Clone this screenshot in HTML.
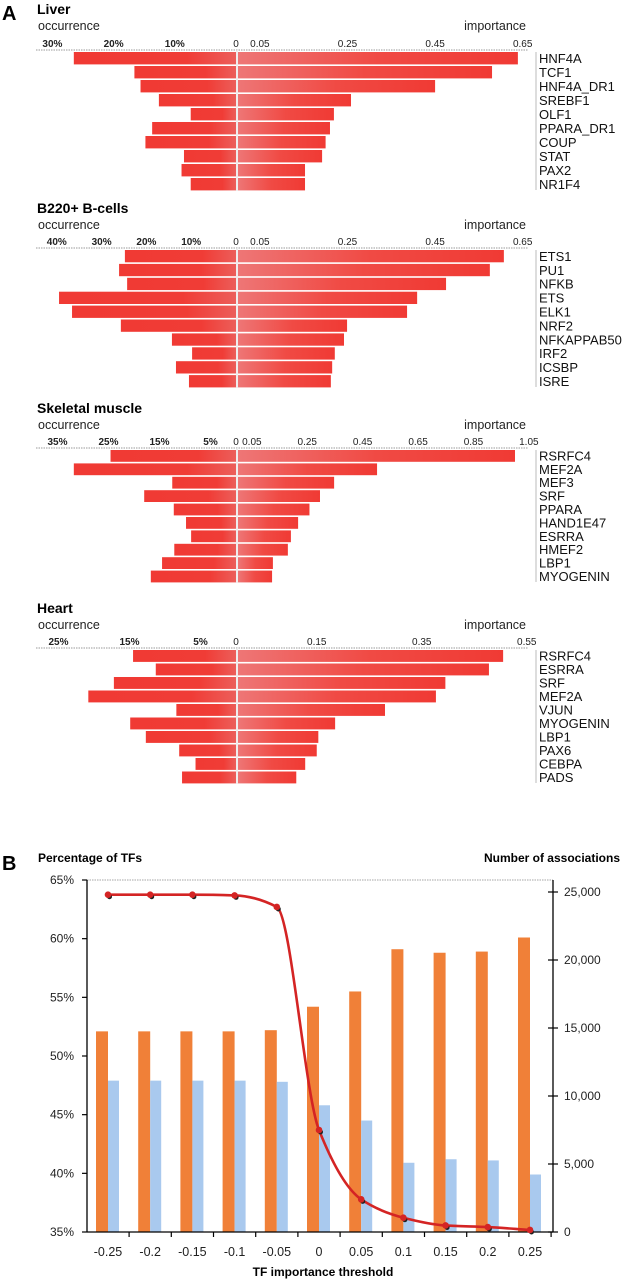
<!DOCTYPE html>
<html><head><meta charset="utf-8">
<style>
html,body{margin:0;padding:0;background:#fff;width:630px;height:1280px;overflow:hidden}
svg{display:block;font-family:"Liberation Sans",sans-serif}
</style></head>
<body>
<svg id="fig" width="630" height="1280" viewBox="0 0 630 1280" xmlns="http://www.w3.org/2000/svg">
<defs>
<linearGradient id="rg" x1="0" x2="1" y1="0" y2="0">
<stop offset="0" stop-color="#ee7676"/><stop offset="0.5" stop-color="#f04a44"/><stop offset="1" stop-color="#f03a34"/>
</linearGradient>
<linearGradient id="lg" x1="0" x2="1" y1="0" y2="0">
<stop offset="0" stop-color="#f03a34"/><stop offset="0.7" stop-color="#f03c36"/><stop offset="1" stop-color="#ec5e5a"/>
</linearGradient>
</defs>
<text x="2" y="20" font-size="20" font-weight="bold">A</text>
<text x="2" y="870" font-size="20" font-weight="bold">B</text>
<g id="panelA"></g>
<g id="panelB"></g>
</svg>
<script>
// ---- Panel A data ----
const liverNames = ["HNF4A","TCF1","HNF4A_DR1","SREBF1","OLF1","PPARA_DR1","COUP","STAT","PAX2","NR1F4"];
const liverOcc = [26.5,16.6,15.6,12.6,7.4,13.7,14.8,8.5,8.9,7.4];
const liverImp = [0.639,0.58,0.45,0.258,0.219,0.21,0.2,0.192,0.153,0.153];
const liverOccTicks = [30,20,10];
const liverImpTicks = [0.05,0.25,0.45,0.65];

const bcellNames = ["ETS1","PU1","NFKB","ETS","ELK1","NRF2","NFKAPPAB50","IRF2","ICSBP","ISRE"];
const bcellOcc = [24.8,26.1,24.3,39.5,36.6,25.7,14.3,9.8,13.4,10.5];
const bcellImp = [0.607,0.575,0.475,0.409,0.386,0.249,0.242,0.221,0.215,0.212];
const bcellOccTicks = [40,30,20,10];
const bcellImpTicks = [0.05,0.25,0.45,0.65];

const muscleNames = ["RSRFC4","MEF2A","MEF3","SRF","PPARA","HAND1E47","ESRRA","HMEF2","LBP1","MYOGENIN"];
const muscleOcc = [24.6,31.8,12.5,18.0,12.2,9.8,8.8,12.1,14.5,16.7];
const muscleImp = [1.0,0.502,0.347,0.296,0.258,0.217,0.191,0.18,0.126,0.123];
const muscleOccTicks = [35,25,15,5];
const muscleImpTicks = [0.05,0.25,0.45,0.65,0.85,1.05];

const heartNames = ["RSRFC4","ESRRA","SRF","MEF2A","VJUN","MYOGENIN","LBP1","PAX6","CEBPA","PADS"];
const heartOcc = [14.5,11.3,17.2,20.8,8.4,14.9,12.7,8.0,5.7,7.6];
const heartImp = [0.505,0.478,0.395,0.377,0.28,0.185,0.153,0.15,0.128,0.111];
const heartOccTicks = [25,15,5];
const heartImpTicks = [0.15,0.35,0.55];

// ---- Panel B data ----
const thresholds = ["-0.25","-0.2","-0.15","-0.1","-0.05","0","0.05","0.1","0.15","0.2","0.25"];
const orangePct = [52.1,52.1,52.1,52.1,52.2,54.2,55.5,59.1,58.8,58.9,60.1];
const bluePct = [47.9,47.9,47.9,47.9,47.8,45.8,44.5,40.9,41.2,41.1,39.9];
const associations = [24800,24800,24800,24750,23900,7500,2400,1050,480,360,150];
const leftTicks = [35,40,45,50,55,60,65];
const rightTicks = [0,5000,10000,15000,20000,25000];

const NS="http://www.w3.org/2000/svg";
function mk(tag,attrs,parent,text){const e=document.createElementNS(NS,tag);for(const k in attrs)e.setAttribute(k,attrs[k]);if(text!==undefined)e.textContent=text;parent.appendChild(e);return e;}

const A=document.getElementById('panelA');
function drawPanel(cfg){
  const g=mk('g',{},A);
  
  
  const cx=236, rx=238;
  const xL=v=>cx-v*cfg.occScale;
  const xR=v=>rx+v*cfg.impScale;
  const t=mk('text',{x:37,y:cfg.y0+10,'font-size':14,'font-weight':'bold'},g,cfg.title);
  
  
  const o=mk('text',{x:38,y:cfg.y0+26,'font-size':12.5,fill:'#222'},g,'occurrence');
  
  
  const im=mk('text',{x:526,y:cfg.y0+26,'font-size':12.5,fill:'#222','text-anchor':'end'},g,'importance');
  
  
  const ay=cfg.y0+cfg.axisOff;
  const ax=mk('line',{x1:36,x2:528,y1:ay,y2:ay,stroke:'#999','stroke-width':1,'stroke-dasharray':'1.5 1'},g);
  
  
  cfg.occTicks.forEach(v=>{
    const tt=mk('text',{x:xL(v),y:ay-3,'font-size':10,'font-weight':'bold','text-anchor':'middle',fill:'#222'},g,v+'%');
    
    
  });
  const z=mk('text',{x:cx,y:ay-3,'font-size':10,'text-anchor':'middle',fill:'#222'},g,'0');
  
  
  cfg.impTicks.forEach(v=>{
    const tt=mk('text',{x:xR(v),y:ay-3,'font-size':10,'text-anchor':'middle',fill:'#222'},g,String(v));
    
    
  });
  mk('line',{x1:cx+1,x2:cx+1,y1:ay,y2:ay+cfg.pitch*10+1,stroke:'#ddd','stroke-width':1},g);
  cfg.names.forEach((n,i)=>{
    const y=ay+2+i*cfg.pitch;
    const l=mk('rect',{x:xL(cfg.occ[i]),y:y,width:cx-xL(cfg.occ[i]),height:cfg.pitch-1.6,fill:'url(#lg)'},g);
    
    
    const r=mk('rect',{x:rx,y:y,width:xR(cfg.imp[i])-rx,height:cfg.pitch-1.6,fill:'url(#rg)'},g);
    
    
    const lb=mk('text',{x:539,y:y+cfg.pitch-3,'font-size':13,fill:'#111'},g,n);
    
    
  });
  mk('line',{x1:536,x2:536,y1:ay+2,y2:ay+cfg.pitch*10,stroke:'#aaa','stroke-width':0.8},g);
}
drawPanel({id:'liver',title:'Liver',y0:4,axisOff:46,pitch:14,names:liverNames,occ:liverOcc,imp:liverImp,occTicks:liverOccTicks,impTicks:liverImpTicks,occScale:6.12,impScale:438});
drawPanel({id:'bcell',title:'B220+ B-cells',y0:203,axisOff:45,pitch:13.9,names:bcellNames,occ:bcellOcc,imp:bcellImp,occTicks:bcellOccTicks,impTicks:bcellImpTicks,occScale:4.48,impScale:438});
drawPanel({id:'muscle',title:'Skeletal muscle',y0:403,axisOff:45,pitch:13.4,names:muscleNames,occ:muscleOcc,imp:muscleImp,occTicks:muscleOccTicks,impTicks:muscleImpTicks,occScale:5.1,impScale:277});
drawPanel({id:'heart',title:'Heart',y0:603,axisOff:45,pitch:13.5,names:heartNames,occ:heartOcc,imp:heartImp,occTicks:heartOccTicks,impTicks:heartImpTicks,occScale:7.1,impScale:525});

// ---- Panel B ----
const B=document.getElementById('panelB');
const L=87,R=553,T=880,BOT=1232;
const yL=v=>BOT-(v-35)/30*(BOT-T);
const yR=v=>BOT-v/25000*340;
const xC=i=>108+i*42.2;
mk('text',{x:38,y:862,'font-size':12,'font-weight':'bold'},B,'Percentage of TFs');
mk('text',{x:620,y:862,'font-size':12,'font-weight':'bold','text-anchor':'end'},B,'Number of associations');
mk('line',{x1:L,x2:R,y1:T,y2:T,stroke:'#888','stroke-width':0.8,'stroke-dasharray':'1.5 1'},B);
leftTicks.forEach(v=>{
  mk('line',{x1:L-5,x2:L,y1:yL(v),y2:yL(v),stroke:'#000','stroke-width':1.2},B);
  const t=mk('text',{x:74,y:yL(v)+4,'font-size':12,'text-anchor':'end',fill:'#222'},B,v+'%');
  
  
});
rightTicks.forEach(v=>{
  mk('line',{x1:R-5,x2:R+5,y1:yR(v),y2:yR(v),stroke:'#000','stroke-width':1.2},B);
  const t=mk('text',{x:564,y:yR(v)+4,'font-size':12,fill:'#222'},B,v.toLocaleString('en-US'));
  
  
});
thresholds.forEach((c,i)=>{
  const o=mk('rect',{x:xC(i)-12,y:yL(orangePct[i]),width:12,height:BOT-yL(orangePct[i]),fill:'#f08038'},B);
  
  
  const b=mk('rect',{x:xC(i),y:yL(bluePct[i]),width:11,height:BOT-yL(bluePct[i]),fill:'#a9c9ee'},B);
  
  
  const t=mk('text',{x:xC(i),y:1256,'font-size':12.5,'text-anchor':'middle',fill:'#222'},B,c);
  
  
  mk('line',{x1:xC(i)+21.1,x2:xC(i)+21.1,y1:BOT,y2:BOT+5,stroke:'#000','stroke-width':1.2},B);
});
mk('line',{x1:L,x2:L,y1:T,y2:BOT,stroke:'#000','stroke-width':1.3},B);
mk('line',{x1:R,x2:R,y1:T,y2:BOT,stroke:'#000','stroke-width':1.3},B);
mk('line',{x1:L,x2:R,y1:BOT,y2:BOT,stroke:'#000','stroke-width':1.3},B);
// monotone cubic line
const pts=associations.map((v,i)=>[xC(i),yR(v)]);
const n=pts.length, dx=[], sl=[], m=[];
for(let i=0;i<n-1;i++){dx.push(pts[i+1][0]-pts[i][0]);sl.push((pts[i+1][1]-pts[i][1])/dx[i]);}
m[0]=sl[0];m[n-1]=sl[n-2];
for(let i=1;i<n-1;i++){m[i]=(sl[i-1]*sl[i]<=0)?0:3*(dx[i-1]+dx[i])/((2*dx[i]+dx[i-1])/sl[i-1]+(dx[i]+2*dx[i-1])/sl[i]);}
let d='M'+pts[0][0]+','+pts[0][1];
for(let i=0;i<n-1;i++){
  const h=dx[i]/3;
  d+=' C'+(pts[i][0]+h)+','+(pts[i][1]+m[i]*h)+' '+(pts[i+1][0]-h)+','+(pts[i+1][1]-m[i+1]*h)+' '+pts[i+1][0]+','+pts[i+1][1];
}
const ln=mk('path',{d:d,fill:'none',stroke:'#d42424','stroke-width':2.6},B);


pts.forEach(p=>{
  mk('circle',{cx:p[0]+1.5,cy:p[1]+2,r:2.5,fill:'#222'},B);
  const mm=mk('circle',{cx:p[0],cy:p[1],r:3.3,fill:'#d42424'},B);
  
  
});
mk('text',{x:(L+R)/2+3,y:1276,'font-size':12,'font-weight':'bold','text-anchor':'middle'},B,'TF importance threshold');
</script>
</body></html>
